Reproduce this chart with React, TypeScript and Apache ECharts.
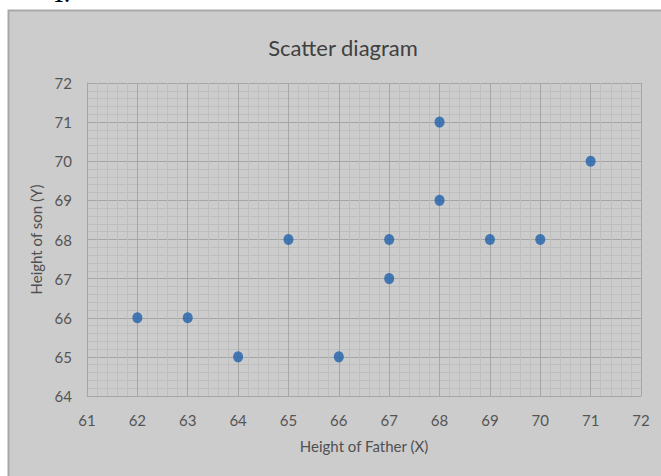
import React, { useEffect, useRef } from "react";
import * as echarts from "echarts";

// Heights of fathers (X) and their sons (Y), in inches
const fatherHeights = [62, 63, 64, 65, 66, 67, 67, 68, 68, 69, 70, 71];
const sonHeights = [66, 66, 65, 68, 65, 68, 67, 71, 69, 68, 68, 70];

const xTicks = { min: 61, max: 72, step: 1 };
const yTicks = { min: 64, max: 72, step: 1 };

const titleText = "Scatter diagram";
const xAxisName = "Height of Father (X)";
const yAxisName = "Height of son (Y)";

const FONT = "Lato, 'Open Sans', sans-serif";

export default function App() {
  const ref = useRef<HTMLDivElement>(null);

  useEffect(() => {
    if (!ref.current) return;
    const chart = echarts.init(ref.current, null, { renderer: "svg" });
    const points = fatherHeights.map((x, i) => [x, sonHeights[i]]);

    chart.setOption({
      animation: false,
      backgroundColor: "#ffffff",
      textStyle: { fontFamily: FONT },
      graphic: [
        {
          type: "rect",
          z: -10,
          silent: true,
          shape: { x: 8.5, y: 10.5, width: 700, height: 500 },
          style: { fill: "#cccccc", stroke: "#a8a8a8", lineWidth: 2 },
        },
        {
          type: "text",
          z: -5,
          x: 53,
          y: 4,
          style: {
            text: "1.",
            fill: "#000",
            font: "bold 16px 'DejaVu Serif', serif",
            textVerticalAlign: "bottom",
          },
        },
      ],
      title: {
        text: titleText,
        left: 338,
        top: 31,
        textAlign: "center",
        textStyle: { fontFamily: FONT, fontSize: 22, fontWeight: "normal", color: "#404040" },
      },
      grid: { left: 87, right: 20, top: 83, bottom: 80, containLabel: false },
      xAxis: {
        type: "value",
        min: xTicks.min,
        max: xTicks.max,
        interval: xTicks.step,
        name: xAxisName,
        nameLocation: "middle",
        nameGap: 42,
        nameTextStyle: { fontFamily: FONT, fontSize: 15, color: "#505050" },
        axisLine: { show: true, lineStyle: { color: "#a6a6a6", width: 1 } },
        axisTick: { show: false },
        axisLabel: { fontFamily: FONT, fontSize: 15, color: "#555555", margin: 16 },
        splitLine: { show: true, lineStyle: { color: "#a6a6a6", width: 1 } },
        minorTick: { show: false, splitNumber: 5 },
        minorSplitLine: { show: true, lineStyle: { color: "#bebebe", width: 1 } },
      },
      yAxis: {
        type: "value",
        min: yTicks.min,
        max: yTicks.max,
        interval: yTicks.step,
        name: yAxisName,
        nameLocation: "middle",
        nameGap: 36,
        nameTextStyle: { fontFamily: FONT, fontSize: 15, color: "#505050" },
        axisLine: { show: true, lineStyle: { color: "#a6a6a6", width: 1 } },
        axisTick: { show: false },
        axisLabel: { fontFamily: FONT, fontSize: 15, color: "#555555", margin: 15 },
        splitLine: { show: true, lineStyle: { color: "#a6a6a6", width: 1 } },
        minorTick: { show: false, splitNumber: 5 },
        minorSplitLine: { show: true, lineStyle: { color: "#bebebe", width: 1 } },
      },
      series: [
        {
          type: "scatter",
          data: points,
          symbol: "circle",
          symbolSize: [10, 11],
          itemStyle: { color: "#1f62aa" },
        },
      ],
    });

    return () => chart.dispose();
  }, []);

  return (
    <div
      ref={ref}
      style={{ position: "absolute", left: 0, top: 0, width: 661, height: 476 }}
    />
  );
}
